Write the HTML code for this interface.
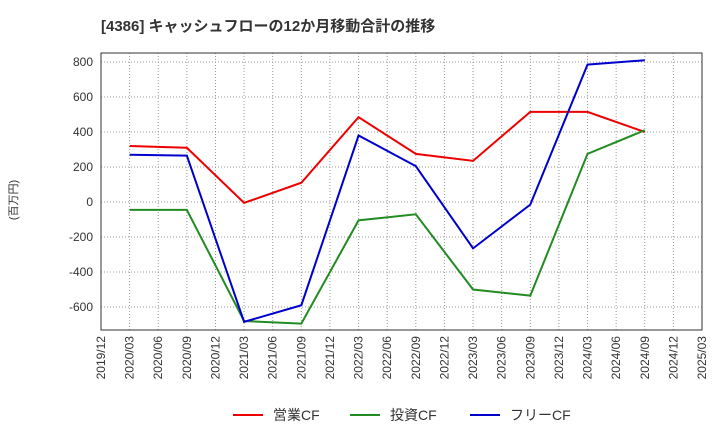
<!DOCTYPE html>
<html><head><meta charset="utf-8"><style>
body{margin:0;background:#fff;width:720px;height:440px;overflow:hidden}
text{font-family:"Liberation Sans","Noto Sans CJK JP",sans-serif}
</style></head><body>
<svg id="c" width="720" height="440" xmlns="http://www.w3.org/2000/svg"></svg>
<script>
const quarters=["2019/12","2020/03","2020/06","2020/09","2020/12","2021/03","2021/06","2021/09","2021/12","2022/03","2022/06","2022/09","2022/12","2023/03","2023/06","2023/09","2023/12","2024/03","2024/06","2024/09","2024/12","2025/03"];
const dataQuarters=["2020/03","2020/09","2021/03","2021/09","2022/03","2022/09","2023/03","2023/09","2024/03","2024/09"];
const operatingCF=[320,310,-5,110,485,275,235,515,515,400];
const investingCF=[-45,-45,-680,-695,-105,-70,-500,-535,275,410];
const freeCF=[270,265,-685,-590,380,205,-265,-15,785,810];
const yTicks=[-600,-400,-200,0,200,400,600,800];
const svg=document.getElementById('c');const NS='http://www.w3.org/2000/svg';
function mk(t,a,p){const e=document.createElementNS(NS,t);for(const k in a)e.setAttribute(k,a[k]);(p||svg).appendChild(e);return e;}
const L=101,R=702,T=53,B=330;
const x=q=>L+quarters.indexOf(q)*(R-L)/(quarters.length-1);
const y=v=>202-v*0.175;
let t=mk('text',{x:101,y:31,'font-size':15,'font-weight':'bold',fill:'#333'});t.textContent='[4386]  キャッシュフローの12か月移動合計の推移';


quarters.forEach(q=>{const l=mk('line',{x1:x(q),x2:x(q),y1:T,y2:B,stroke:'#999','stroke-dasharray':'1,2','stroke-width':1});


const tx=mk('text',{x:0,y:0,'font-size':12,fill:'#333','text-anchor':'end',transform:`translate(${x(q)+4},${B+6}) rotate(-90)`});tx.textContent=q;

});
yTicks.forEach(v=>{const l=mk('line',{x1:L,x2:R,y1:y(v),y2:y(v),stroke:'#999','stroke-dasharray':'1,2','stroke-width':1});


const tx=mk('text',{x:L-8,y:y(v)+4,'font-size':12,fill:'#333','text-anchor':'end'});tx.textContent=v;

});
const fr=mk('rect',{x:L,y:T,width:R-L,height:B-T,fill:'none',stroke:'#333'});


const yt=mk('text',{x:0,y:0,'font-size':11,fill:'#333','text-anchor':'middle',transform:'translate(17,200) rotate(-90)'});yt.textContent='(百万円)';


const series=[[operatingCF,'#e00','operating-cf-line'],[investingCF,'#228b22','investing-cf-line'],[freeCF,'#00c','free-cf-line']];
series.forEach(s=>{const pts=s[0].map((v,i)=>x(dataQuarters[i])+','+y(v)).join(' ');
const p=mk('polyline',{points:pts,fill:'none',stroke:s[1],'stroke-width':2});

});
const leg=[['営業CF','#e00',233],['投資CF','#228b22',350],['フリーCF','#00c',470]];
leg.forEach(g=>{const gg=mk('g',{});


mk('line',{x1:g[2],x2:g[2]+30,y1:415,y2:415,stroke:g[1],'stroke-width':2},gg);
const tx=mk('text',{x:g[2]+40,y:420,'font-size':14,fill:'#333'},gg);tx.textContent=g[0];});
</script>
</body></html>
